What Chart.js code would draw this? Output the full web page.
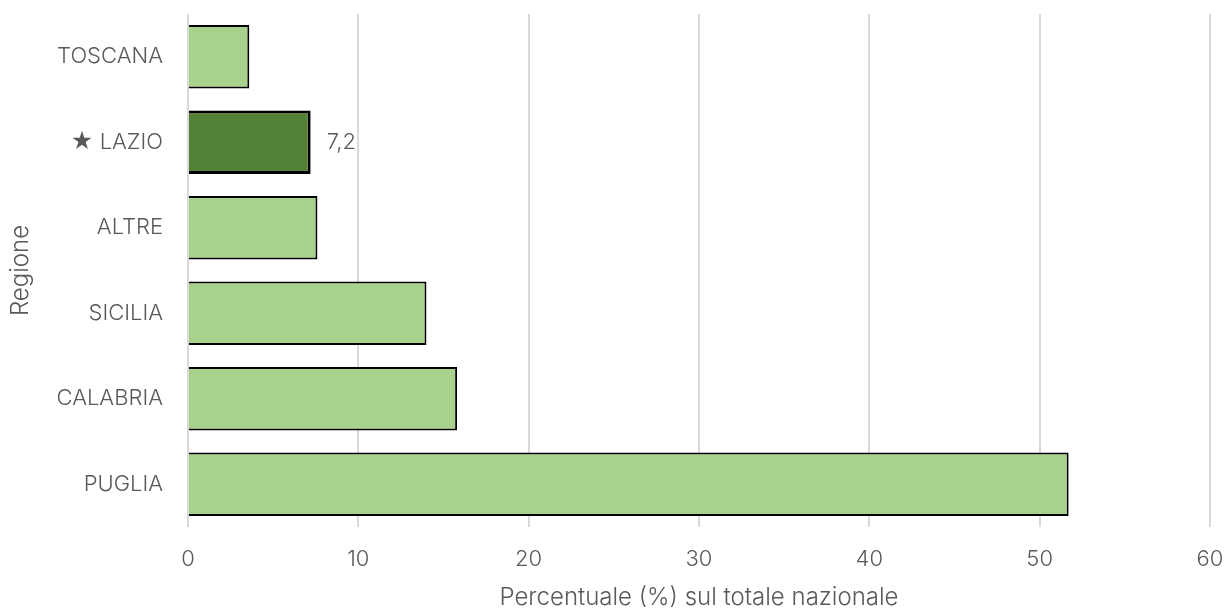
<!DOCTYPE html>
<html>
<head>
<meta charset="utf-8">
<script src="https://cdn.jsdelivr.net/npm/chart.js@4/dist/chart.umd.min.js"></script>
<style>
  html, body { margin: 0; padding: 0; background: #fff; }
  #box { width: 1228px; height: 614px; }
</style>
</head>
<body>
<div id="box"><canvas id="regioni"></canvas></div>
<script>
// regioni e quota percentuale sul totale nazionale
const regioni = ["TOSCANA", "★ LAZIO", "ALTRE", "SICILIA", "CALABRIA", "PUGLIA"];
const percentuali = [3.6, 7.2, 7.6, 14.0, 15.8, 51.7];
const evidenza = "★ LAZIO";
const tacche = [0, 10, 20, 30, 40, 50, 60];

const grigio = "#595959";
const font = "Inter";

// colori: regione evidenziata in verde scuro
const sfondi = regioni.map((r) => r === evidenza ? "#538135" : "#a9d18e");
const bordi = regioni.map((r) => r === evidenza ? 3 : 2);

// etichetta del valore solo sulla barra evidenziata
const etichetta = {
    id: "etichetta",
    afterDatasetsDraw(chart) {
        const ctx = chart.ctx;
        const meta = chart.getDatasetMeta(0);
        const i = regioni.indexOf(evidenza);
        const bar = meta.data[i];
        ctx.save();
        ctx.font = "300 22px " + font;
        ctx.fillStyle = grigio;
        ctx.textAlign = "left";
        ctx.textBaseline = "middle";
        ctx.fillText(percentuali[i].toFixed(1).replace(".", ","), bar.x + 16, bar.y);
        ctx.restore();
    }
};

new Chart(document.getElementById("regioni").getContext("2d"), {
    type: "bar",
    data: {
        labels: regioni,
        datasets: [
            {
                data: percentuali,
                backgroundColor: sfondi,
                borderColor: "#000",
                borderWidth: bordi,
                barPercentage: 0.74,
                categoryPercentage: 1
            }
        ]
    },
    options: {
        indexAxis: "y",
        responsive: true,
        maintainAspectRatio: false,
        animation: false,
        layout: {
            padding: { top: 14, right: 18, left: 0, bottom: 0 }
        },
        plugins: {
            legend: { display: false },
            tooltip: { enabled: false }
        },
        scales: {
            x: {
                min: 0,
                max: 60,
                afterBuildTicks: (s) => { s.ticks = tacche.map((v) => ({ value: v })); },
                afterFit: (s) => {
                    s.height = 87;
                    s.paddingLeft = 0;
                    s.paddingRight = 0;
                },
                grid: { color: "#d9d9d9", lineWidth: 2, drawTicks: false },
                border: { display: false },
                ticks: {
                    color: grigio,
                    font: { family: font, size: 22, weight: 300 },
                    padding: 19
                },
                title: {
                    display: true,
                    text: "Percentuale (%) sul totale nazionale",
                    color: grigio,
                    font: { family: font, size: 24, weight: 300 },
                    padding: { top: 0, bottom: 2 }
                }
            },
            y: {
                afterFit: (s) => {
                    s.width = 188;
                    s.paddingTop = 0;
                    s.paddingBottom = 0;
                },
                grid: { display: false },
                border: { display: false },
                ticks: {
                    color: grigio,
                    font: { family: font, size: 22, weight: 300 },
                    padding: 17
                },
                title: {
                    display: true,
                    text: "Regione",
                    color: grigio,
                    font: { family: font, size: 24, weight: 300 },
                    padding: { top: 6, bottom: 0 }
                }
            }
        }
    },
    plugins: [etichetta]
});
</script>
</body>
</html>
